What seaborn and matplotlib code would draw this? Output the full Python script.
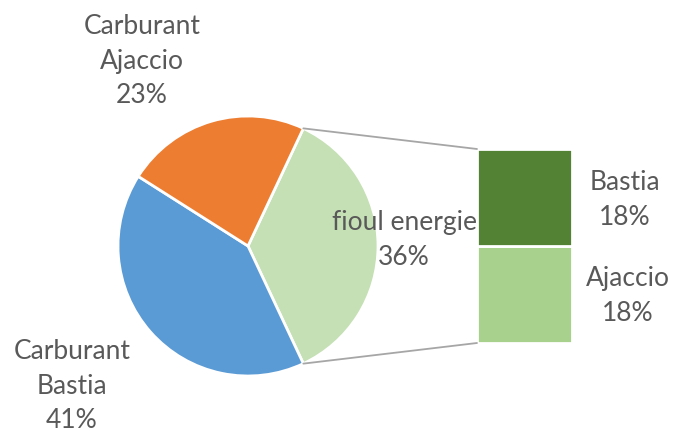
import numpy as np
import matplotlib
matplotlib.use("Agg")
import matplotlib.pyplot as plt
from matplotlib.patches import ConnectionPatch
import seaborn as sns

# ---- data ----
pie_labels = ["fioul energie", "Carburant Bastia", "Carburant Ajaccio"]
pie_values = [36, 41, 23]
bar_labels = ["Ajaccio", "Bastia"]          # bottom to top
bar_values = [18, 18]

pie_colors = ["#C5E0B4", "#5B9BD5", "#ED7D31"]
bar_colors = ["#A9D18E", "#548235"]

sns.set_theme(style="white")
plt.rcParams["font.family"] = ["Lato", "DejaVu Sans"]
TXT = "#595959"
FS = 19
LS = 1.48

W, H = 675, 434
fig = plt.figure(figsize=(W / 100, H / 100), dpi=100)

def fx(px):
    return px / W

def fy(py):
    return 1 - py / H

# pie axes: centre (248,246), radius 130 px
cx, cy, r = 248, 246, 130
ax1 = fig.add_axes([fx(cx - r), fy(cy + r), 2 * r / W, 2 * r / H])
first_share = pie_values[0] / sum(pie_values) * 360
start = first_share / 2
ax1.pie(pie_values, colors=pie_colors, startangle=start, counterclock=False,
        radius=1, wedgeprops=dict(edgecolor="white", linewidth=2))
ax1.set_xlim(-1, 1)
ax1.set_ylim(-1, 1)
ax1.set_aspect("equal")
ax1.axis("off")

# bar axes
bl, br, bt, bb = 477, 572, 149, 343
ax2 = fig.add_axes([fx(bl), fy(bb), (br - bl) / W, (bb - bt) / H])
bottom = 0
for v, c in zip(bar_values, bar_colors):
    ax2.bar(0, v, width=1, bottom=bottom, color=c, edgecolor="white", linewidth=2)
    bottom += v
ax2.set_xlim(-0.5, 0.5)
ax2.set_ylim(0, sum(bar_values))
ax2.axis("off")

# connector lines
ang = np.deg2rad(start)
for sgn, yb in [(1, sum(bar_values)), (-1, 0)]:
    con = ConnectionPatch(xyA=(np.cos(ang), sgn * np.sin(ang)), coordsA=ax1.transData,
                          xyB=(-0.5, yb), coordsB=ax2.transData,
                          color="#A6A6A6", linewidth=1.3)
    fig.add_artist(con)

# labels
pct = dict(zip(pie_labels, pie_values))
kw = dict(ha="center", va="center", fontsize=FS, color=TXT, linespacing=LS)
fig.text(fx(142), fy(61), f"Carburant\nAjaccio\n{pct['Carburant Ajaccio']}%", **kw)
fig.text(fx(72), fy(386), f"Carburant\nBastia\n{pct['Carburant Bastia']}%", **kw)
fig.text(fx(404), fy(240), f"fioul energie\n{pct['fioul energie']}%", zorder=0, **kw)
bpct = dict(zip(bar_labels, bar_values))
fig.text(fx(625), fy(200), f"Bastia\n{bpct['Bastia']}%", **kw)
fig.text(fx(628), fy(296), f"Ajaccio\n{bpct['Ajaccio']}%", **kw)

fig.savefig("out.png", dpi=100)
